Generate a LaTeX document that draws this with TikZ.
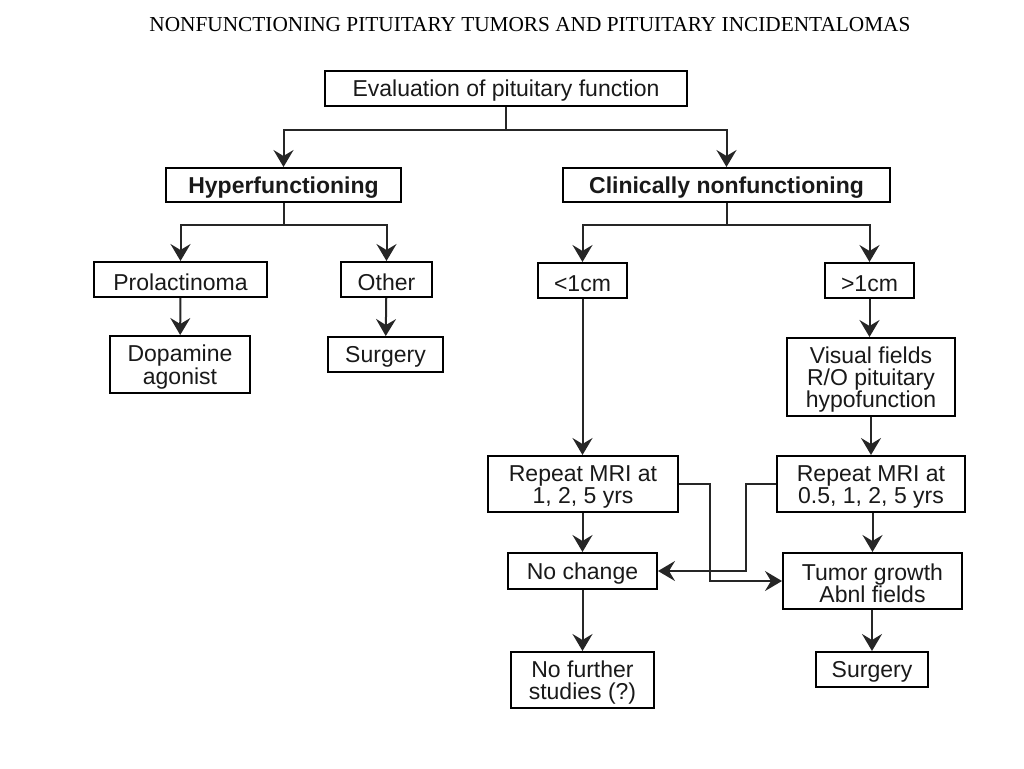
\documentclass[tikz,border=0pt]{standalone}
\usepackage{fontspec}
\setmainfont{Liberation Sans}
\newfontfamily\hdrfont{Liberation Serif}
\usetikzlibrary{arrows.meta}
\newcommand{\topstrut}{\rule{0pt}{10.8pt}}
\tikzset{
  box/.style={draw, line width=1pt, align=center, inner sep=0pt,
    font=\fontsize{11.5}{11.1}\selectfont, text=black!90},
  conn/.style={line width=1pt, draw=black!85},
  arr/.style={conn, -{Stealth[length=8.5pt, width=10pt, inset=3pt]}},
}
\begin{document}
\begin{tikzpicture}[x=0.5pt, y=-0.5pt]
\useasboundingbox (0,0) rectangle (1024,768);
\node[font=\hdrfont\fontsize{10.65}{12}\selectfont, anchor=base] (hdr) at (530,31.5) {NONFUNCTIONING PITUITARY TUMORS AND PITUITARY INCIDENTALOMAS};

\node[box, minimum width=181pt, minimum height=17.5pt] (eval) at (506,88.5) {\topstrut Evaluation of pituitary function};
\node[box, minimum width=117.5pt, minimum height=17pt, font=\bfseries\fontsize{11.5}{11.1}\selectfont] (hyper) at (283.5,185) {\topstrut Hyperfunctioning};
\node[box, minimum width=163.5pt, minimum height=17pt, font=\bfseries\fontsize{11.5}{11.1}\selectfont] (clin) at (726.5,185) {\topstrut Clinically nonfunctioning};

\node[box, minimum width=86.5pt, minimum height=17.5pt] (prol) at (180.5,279.5) {\topstrut Prolactinoma};
\node[box, minimum width=45.5pt, minimum height=17.5pt] (other) at (386.5,279.5) {\topstrut Other};
\node[box, minimum width=70pt, minimum height=28.5pt] (dopa) at (180,364.5) {\topstrut Dopamine\\agonist};
\node[box, minimum width=57.5pt, minimum height=17.5pt] (surg1) at (385.5,354.5) {\topstrut Surgery};

\node[box, minimum width=44.5pt, minimum height=17.5pt] (small) at (582.5,280.5) {\topstrut{<}1cm};
\node[box, minimum width=44.5pt, minimum height=17.5pt] (large) at (869.5,280.5) {\topstrut{>}1cm};
\node[box, minimum width=84pt, minimum height=39pt] (vis) at (871,377) {\topstrut Visual fields\\R/O pituitary\\hypofunction};
\node[box, minimum width=95pt, minimum height=28pt] (mri1) at (583,484) {\topstrut Repeat MRI at\\1, 2, 5 yrs};
\node[box, minimum width=94pt, minimum height=28pt] (mri2) at (871,484) {\topstrut Repeat MRI at\\0.5, 1, 2, 5 yrs};
\node[box, minimum width=74.5pt, minimum height=18pt] (noch) at (582.5,571) {\topstrut No change};
\node[box, minimum width=89.5pt, minimum height=28pt] (tumor) at (872.5,581) {\topstrut Tumor growth\\Abnl fields};
\node[box, minimum width=71.5pt, minimum height=28pt] (nofur) at (582.5,680) {\topstrut No further\\studies (?)};
\node[box, minimum width=56pt, minimum height=17.5pt] (surg2) at (872,669.5) {\topstrut Surgery};

\coordinate (j1) at (506,130);
\draw[conn] (eval) -- (j1);
\draw[arr] (j1) -| (hyper);
\draw[arr] (j1) -| (clin);

\coordinate (j2) at (284,225);
\draw[conn] (hyper.south -| j2) -- (j2);
\draw[arr] (j2) -| (prol);
\draw[arr] (j2) -| (other);

\coordinate (j3) at (727,225);
\draw[conn] (clin.south -| j3) -- (j3);
\draw[arr] (j3) -| (small);
\draw[arr] (j3) -| (large);

\draw[arr] (prol) -- (dopa);
\draw[arr] (other) -- (surg1);
\draw[arr] (small) -- (mri1.north -| small);
\draw[arr] (large) -- (vis.north -| large);
\draw[arr] (vis.south -| mri2) -- (mri2);
\draw[arr] (mri1.south -| noch) -- (noch);
\draw[arr] (mri2.south -| tumor) -- (tumor);
\draw[arr] (noch) -- (nofur);
\draw[arr] (tumor.south -| surg2) -- (surg2);

\coordinate (c1) at (710,484);
\coordinate (c2) at (746,484);
\draw[arr] (mri1.east) -- (c1) |- (tumor.west);
\draw[arr] (mri2.west) -- (c2) |- (noch.east);
\end{tikzpicture}
\end{document}
